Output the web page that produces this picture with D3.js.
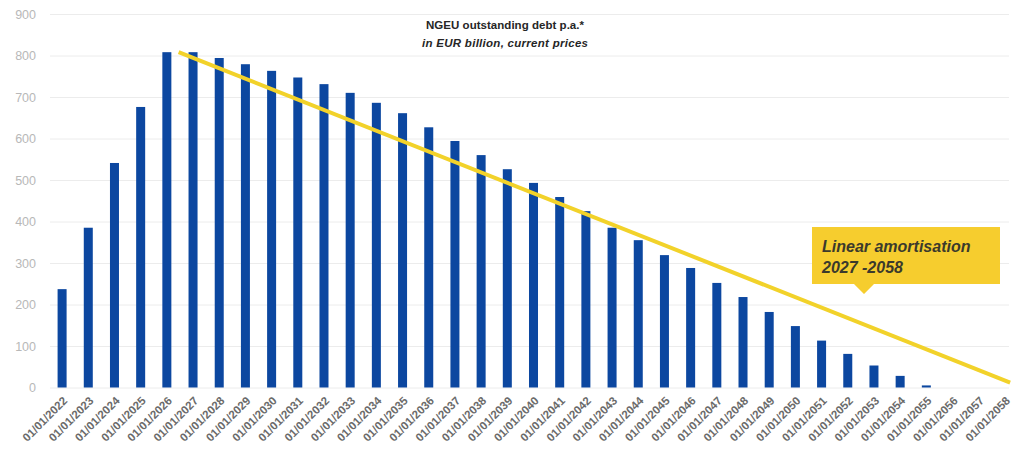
<!DOCTYPE html>
<html>
<head>
<meta charset="utf-8">
<script src="https://cdn.jsdelivr.net/npm/d3@7"></script>
<style>
  html, body { margin: 0; padding: 0; background: #ffffff; }
  svg { display: block; }
</style>
</head>
<body>
<svg id="chart" width="1011" height="452"></svg>
<script>
// NGEU outstanding debt per year, EUR billion
const years = ["2022","2023","2024","2025","2026","2027","2028","2029","2030","2031",
  "2032","2033","2034","2035","2036","2037","2038","2039","2040","2041","2042","2043",
  "2044","2045","2046","2047","2048","2049","2050","2051","2052","2053","2054","2055",
  "2056","2057","2058"];
const debt = [237, 385, 541, 676, 808, 808, 794, 779, 763, 747,
  731, 710, 686, 661, 627, 594, 560, 526, 493, 459, 425, 385,
  355, 319, 288, 252, 218, 182, 148, 113, 81, 53, 28, 5,
  0, 0, 0];
const yTicks = [0, 100, 200, 300, 400, 500, 600, 700, 800, 900];
// straight-line amortisation path, [year, value]
const amortLine = [[2026.45, 808], [2058.2, 12]];
const titleLines = ["NGEU outstanding debt p.a.*", "in EUR billion, current prices"];
const calloutLines = ["Linear amortisation", "2027 -2058"];

const svg = d3.select("#chart");
const W = 1011, H = 452;
const plot = { left: 49, right: 1018, top: 14, bottom: 387.5 };

const x = d3.scaleBand().domain(years).range([plot.left, plot.right]).paddingInner(0.656).paddingOuter(0.328);
const y = d3.scaleLinear().domain([0, 900]).range([plot.bottom, plot.top]);
const center = yr => x(String(yr)) + x.bandwidth() / 2;
const yearX = d3.scaleLinear().domain([2022, 2058]).range([center(2022), center(2058)]);

// gridlines + y labels
const yAxis = d3.axisLeft(y).tickValues(yTicks).tickSize(-(W - 52)).tickPadding(14);
const gy = svg.append("g").attr("transform", `translate(50,0)`).call(yAxis);
gy.select(".domain").remove();
gy.selectAll(".tick line").attr("stroke", "#ececec").attr("stroke-width", 1);
gy.selectAll(".tick text")
  .attr("fill", "#b8b8b8")
  .attr("font-family", "Liberation Sans, Arial, sans-serif")
  .attr("font-size", 12.5);

// bars
svg.append("g").selectAll("rect").data(years).join("rect")
  .attr("x", d => x(d))
  .attr("width", x.bandwidth())
  .attr("y", (d, i) => y(debt[i]))
  .attr("height", (d, i) => y(0) - y(debt[i]))
  .attr("fill", "#0c47a0");

// x labels
const xAxis = d3.axisBottom(x).tickSize(0).tickFormat(d => "01/01/" + d);
const gx = svg.append("g").attr("transform", `translate(0,${plot.bottom})`).call(xAxis);
gx.select(".domain").remove();
gx.selectAll(".tick text")
  .attr("text-anchor", "end")
  .attr("transform", "translate(1,9) rotate(-45)")
  .attr("dy", "0.35em")
  .attr("fill", "#6a6a6a")
  .attr("font-weight", "bold")
  .attr("font-family", "Liberation Sans, Arial, sans-serif")
  .attr("font-size", 11.5);

// amortisation line
svg.append("path")
  .datum(amortLine)
  .attr("d", d3.line().x(d => yearX(d[0])).y(d => y(d[1])))
  .attr("stroke", "#f2d22a")
  .attr("stroke-width", 4)
  .attr("fill", "none");

// title
const title = svg.append("g").attr("font-family", "Liberation Sans, Arial, sans-serif").attr("fill", "#262626");
title.append("text").attr("x", 505).attr("y", 29).attr("text-anchor", "middle")
  .attr("font-size", 11.5).attr("font-weight", "bold").attr("textLength", 158).text(titleLines[0]);
title.append("text").attr("x", 505).attr("y", 47).attr("text-anchor", "middle")
  .attr("font-size", 11.5).attr("font-weight", "bold").attr("font-style", "italic").attr("textLength", 166).text(titleLines[1]);

// callout
const cb = { x0: 812, x1: 1000, y0: 227, y1: 284, tipX: 864, tipY: 294 };
const callout = svg.append("g");
callout.append("path")
  .attr("d", `M${cb.x0},${cb.y0} H${cb.x1} V${cb.y1} H${cb.tipX + 10} L${cb.tipX},${cb.tipY} L${cb.tipX - 10},${cb.y1} H${cb.x0} Z`)
  .attr("fill", "#f6cd2e");
callout.selectAll("text").data(calloutLines).join("text")
  .attr("x", 822)
  .attr("y", (d, i) => 252 + i * 21)
  .attr("font-family", "Liberation Sans, Arial, sans-serif")
  .attr("font-size", 16)
  .attr("font-style", "italic")
  .attr("font-weight", "bold")
  .attr("fill", "#3b3a2c")
  .text(d => d);
</script>
</body>
</html>
